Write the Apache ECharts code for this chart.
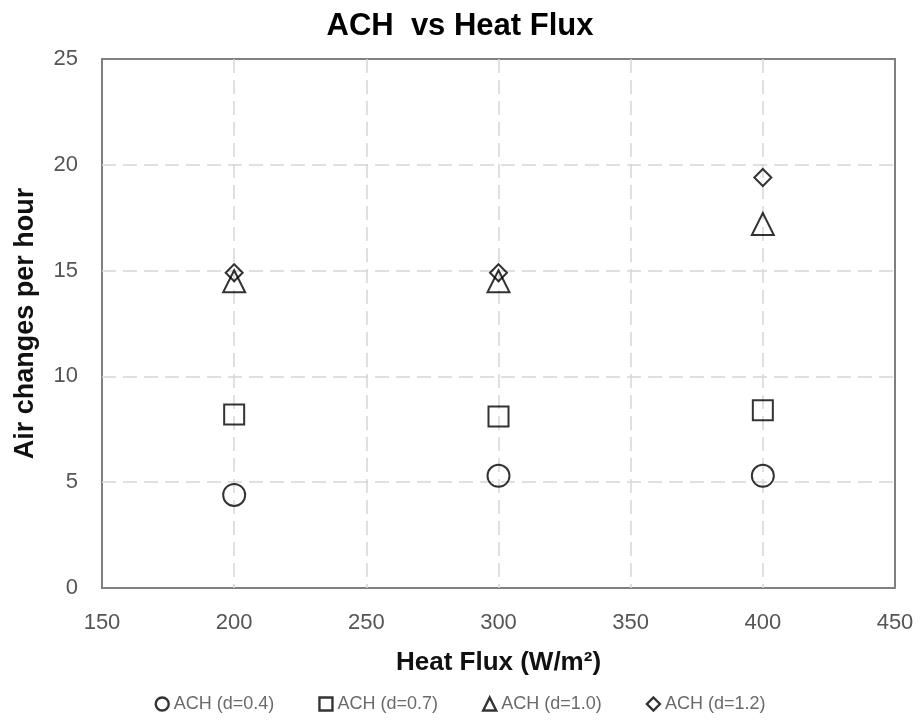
<!DOCTYPE html>
<html>
<head>
<meta charset="utf-8">
<script src="https://cdn.jsdelivr.net/npm/echarts@6/dist/echarts.min.js"></script>
<style>
	html, body { margin: 0; padding: 0; background: #fff; }
	#chart { width: 920px; height: 723px; }
</style>
</head>
<body>
<div id="chart"></div>
<script>
	// heat flux (W/m2)
	const heatFlux = [200, 300, 400]
	// air changes per hour for each opening size d
	const achD04 = [4.4, 5.3, 5.3]
	const achD07 = [8.2, 8.1, 8.4]
	const achD10 = [14.5, 14.5, 17.2]
	const achD12 = [14.9, 14.9, 19.4]

	const seriesNames = ["ACH (d=0.4)", "ACH (d=0.7)", "ACH (d=1.0)", "ACH (d=1.2)"]
	const seriesData = [achD04, achD07, achD10, achD12]
	const symbols = ["circle", "rect", "triangle", "diamond"]
	const sizes = [22, 20, 22, 17]

	const font = "Liberation Sans, Arial, sans-serif"
	const gridLine = { color: "#d6d6d6", type: [14, 7], width: 1.5 }

	const chart = echarts.init(document.getElementById("chart"))

	const series = seriesNames.map((name, i) => ({
		name: name,
		type: "scatter",
		symbol: symbols[i],
		symbolSize: sizes[i],
		data: heatFlux.map((x, j) => [x, seriesData[i][j]]),
		itemStyle: {
			color: "rgba(255,255,255,0)",
			borderColor: "#000",
			borderWidth: 2
		}
	}))

	chart.setOption({
		animation: false,
		title: {
			text: "ACH  vs Heat Flux",
			left: "center",
			top: 6,
			textStyle: {
				fontFamily: font,
				fontSize: 31,
				fontWeight: "bold",
				color: "#000"
			}
		},
		grid: {
			left: 102,
			right: 25,
			top: 59,
			bottom: 135,
			show: true,
			borderColor: "#808080",
			borderWidth: 2,
			backgroundColor: "transparent"
		},
		legend: {
			bottom: 5,
			left: "center",
			itemGap: 44,
			itemWidth: 13,
			itemHeight: 13,
			textStyle: {
				fontFamily: font,
				fontSize: 18,
				color: "#6a6a6a"
			},
			data: seriesNames.map((n, i) => ({
				name: n,
				icon: symbols[i],
				itemStyle: { color: "#fff", borderColor: "#000", borderWidth: 2.4 }
			}))
		},
		xAxis: {
			type: "value",
			min: 150,
			max: 450,
			interval: 50,
			name: "Heat Flux (W/m²)",
			nameLocation: "middle",
			nameGap: 62,
			nameTextStyle: {
				fontFamily: font,
				fontSize: 26,
				fontWeight: "bold",
				color: "#111"
			},
			axisLine: { show: false },
			axisTick: { show: false },
			axisLabel: {
				margin: 24,
				fontFamily: font,
				fontSize: 22,
				color: "#555"
			},
			splitLine: {
				show: true,
				showMinLine: false,
				showMaxLine: false,
				lineStyle: gridLine
			}
		},
		yAxis: {
			type: "value",
			min: 0,
			max: 25,
			interval: 5,
			name: "Air changes per hour",
			nameLocation: "middle",
			nameGap: 63,
			nameTextStyle: {
				fontFamily: font,
				fontSize: 27,
				fontWeight: "bold",
				color: "#111"
			},
			axisLine: { show: false },
			axisTick: { show: false },
			axisLabel: {
				margin: 24,
				fontFamily: font,
				fontSize: 22,
				color: "#555"
			},
			splitLine: {
				show: true,
				showMinLine: false,
				showMaxLine: false,
				lineStyle: gridLine
			}
		},
		series: series
	})
</script>
</body>
</html>
